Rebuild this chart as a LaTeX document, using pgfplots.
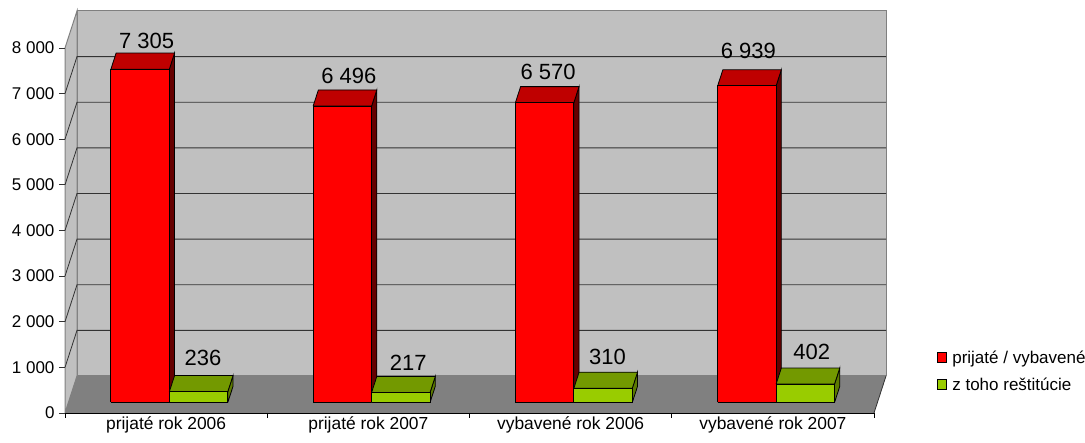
\documentclass[border=0pt]{standalone}
\usepackage{pgfplots}
\pgfplotsset{compat=1.18}
\usepackage{fontspec}
\setmainfont{Liberation Sans}
\definecolor{wallc}{HTML}{C0C0C0}
\definecolor{floorc}{HTML}{808080}
\definecolor{redtop}{HTML}{BF0000}
\definecolor{redside}{HTML}{660000}
\definecolor{greenf}{HTML}{99CC00}
\definecolor{greentop}{HTML}{739900}
\definecolor{greenside}{HTML}{5C7A00}
% x0, x1, value, front, top, side
\newcommand{\threedbar}[6]{%
  \addplot3[forget plot,fill=#6,draw=black,line width=0.8pt] coordinates {(#2,0.285,0) (#2,0.72,0) (#2,0.72,#3) (#2,0.285,#3) (#2,0.285,0)};
  \addplot3[forget plot,fill=#5,draw=black,line width=0.8pt] coordinates {(#1,0.285,#3) (#2,0.285,#3) (#2,0.72,#3) (#1,0.72,#3) (#1,0.285,#3)};
  \addplot3[forget plot,fill=#4,draw=black,line width=0.8pt] coordinates {(#1,0.285,0) (#2,0.285,0) (#2,0.285,#3) (#1,0.285,#3) (#1,0.285,0)};
}
\newcommand{\gridl}[1]{%
  \addplot3[forget plot,draw=black!80,line width=0.8pt] coordinates {(0,0,#1) (0,1,#1) (4,1,#1)};
}
\newcommand{\ztk}[1]{%
  \addplot3[forget plot,draw=black!80,line width=0.8pt] coordinates {(-0.03,0,#1) (0,0,#1)};
}
\newcommand{\xtk}[1]{%
  \addplot3[forget plot,draw=black,line width=0.8pt] coordinates {(#1,0,0) (#1,0,-120)};
}
\begin{document}
\begin{tikzpicture}[x=1pt,y=1pt]
\useasboundingbox (0,0) rectangle (1085,443);
\begin{axis}[
  at={(65pt,30pt)},anchor=south west,
  disabledatascaling,
  x={(202.25pt,0pt)},y={(12pt,37pt)},z={(0pt,0.045625pt)},
  xmin=0,xmax=4,ymin=0,ymax=1,zmin=0,zmax=8000,
  clip=false,
  axis lines*=left,
  axis line style={-},
  y axis line style={draw=none},
  ytick=\empty,
  ztick={0,1000,2000,3000,4000,5000,6000,7000,8000},
  scaled z ticks=false,
  zticklabel style={anchor=east,xshift=-7pt,font=\fontsize{17}{20}\selectfont,/pgf/number format/assume math mode=true,/pgf/number format/1000 sep={\ }},
  xtick={0.5,1.5,2.5,3.5},
  xticklabels={prijaté rok 2006,prijaté rok 2007,vybavené rok 2006,vybavené rok 2007},
  xticklabel style={anchor=north,font=\fontsize{17.4}{20}\selectfont},
  major tick length=0pt,
  tick style={draw=none},
  legend style={at={(1.0613,0.104)},anchor=west,draw=none,fill=none,inner sep=0pt,
    font=\fontsize{17}{20}\selectfont,row sep=9pt,legend cell align=left},
  legend image code/.code={\draw[#1] (0pt,-5pt) rectangle (9pt,5pt); \path (13pt,0pt);},
]
% walls and floor
\addplot3[forget plot,fill=wallc,draw=floorc,line width=1pt] coordinates {(0,1,0) (4,1,0) (4,1,8000) (0,1,8000) (0,1,0)};
\addplot3[forget plot,fill=wallc,draw=floorc,line width=1pt] coordinates {(0,0,0) (0,1,0) (0,1,8000) (0,0,8000) (0,0,0)};
\addplot3[forget plot,fill=floorc,draw=none] coordinates {(0,0,0) (4,0,0) (4,1,0) (0,1,0) (0,0,0)};
\addplot3[forget plot,draw=black!80,line width=0.8pt] coordinates {(4,0,0) (4,1,0)};
\gridl{1000}\gridl{2000}\gridl{3000}\gridl{4000}\gridl{5000}\gridl{6000}\gridl{7000}
\ztk{0}\ztk{1000}\ztk{2000}\ztk{3000}\ztk{4000}\ztk{5000}\ztk{6000}\ztk{7000}\ztk{8000}
\xtk{0}\xtk{1}\xtk{2}\xtk{3}\xtk{4}
% bars
\threedbar{0.21}{0.499}{7305}{red}{redtop}{redside}
\threedbar{0.499}{0.788}{236}{greenf}{greentop}{greenside}
\threedbar{1.21}{1.499}{6496}{red}{redtop}{redside}
\threedbar{1.499}{1.788}{217}{greenf}{greentop}{greenside}
\threedbar{2.21}{2.499}{6570}{red}{redtop}{redside}
\threedbar{2.499}{2.788}{310}{greenf}{greentop}{greenside}
\threedbar{3.21}{3.499}{6939}{red}{redtop}{redside}
\threedbar{3.499}{3.788}{402}{greenf}{greentop}{greenside}
\addlegendimage{fill=red,draw=black,line width=0.8pt}
\addlegendentry{prijaté / vybavené}
\addlegendimage{fill=greenf,draw=black,line width=0.8pt}
\addlegendentry{z toho reštitúcie}
% data labels
\begin{scope}[every node/.style={font=\fontsize{22}{24}\selectfont,anchor=base,inner sep=0pt,yshift=6pt}]
\node[xshift=1pt,yshift=-2pt] at (axis cs:0.355,0.73,7305) {7 305};
\node[xshift=-1pt,yshift=4pt] at (axis cs:0.644,0.73,236) {236};
\node[xshift=1pt] at (axis cs:1.355,0.73,6496) {6 496};
\node[xshift=2pt] at (axis cs:1.644,0.73,217) {217};
\node[xshift=-2pt,yshift=1pt] at (axis cs:2.355,0.73,6570) {6 570};
\node[xshift=-1pt,yshift=1pt] at (axis cs:2.644,0.73,310) {310};
\node[xshift=-4pt,yshift=5pt] at (axis cs:3.355,0.73,6939) {6 939};
\node[xshift=1pt,yshift=2pt] at (axis cs:3.644,0.73,402) {402};
\end{scope}
\end{axis}
\end{tikzpicture}
\end{document}
